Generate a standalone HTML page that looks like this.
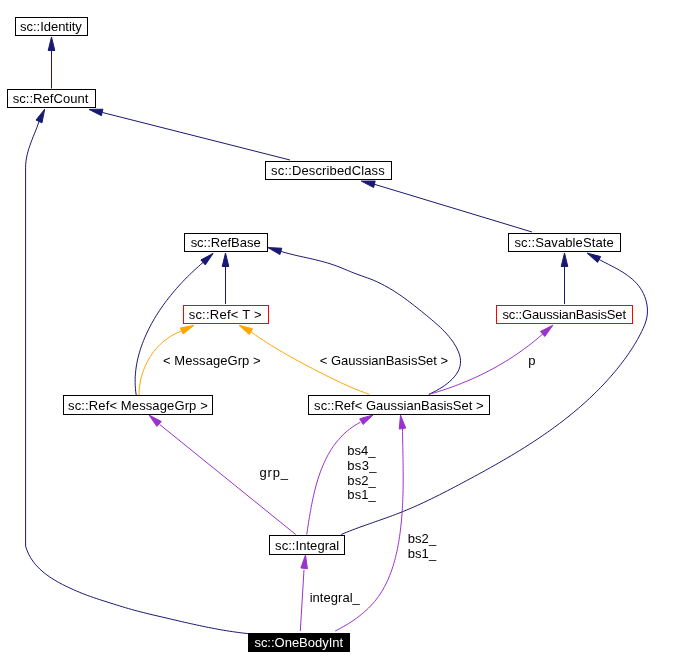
<!DOCTYPE html><html><head><meta charset="utf-8"><style>html,body{margin:0;padding:0;background:#fff;width:688px;height:670px;overflow:hidden}svg{display:block;will-change:transform}text{font-family:"Liberation Sans", sans-serif;font-size:13px}</style></head><body>
<svg width="688" height="670" viewBox="0 0 688 670">
<rect x="0" y="0" width="688" height="670" fill="#fff"/>
<path d="M51.50 51.00 L51.50 88.50" fill="none" stroke="#191970" stroke-width="1"/>
<polygon points="51.50,37.00 54.80,50.50 48.20,50.50" fill="#191970" stroke="#191970" stroke-width="1"/>
<path d="M102.50 112.50 L290.00 160.00" fill="none" stroke="#191970" stroke-width="1"/>
<polygon points="89.00,109.40 102.90,109.21 101.42,115.64" fill="#191970" stroke="#191970" stroke-width="1"/>
<path d="M374.50 184.30 L532.00 232.00" fill="none" stroke="#191970" stroke-width="1"/>
<polygon points="361.30,181.10 375.20,181.07 373.64,187.49" fill="#191970" stroke="#191970" stroke-width="1"/>
<path d="M39.20 121.00 L38.14 124.07 L37.01 127.13 L35.83 130.18 L34.61 133.23 L33.39 136.28 L32.18 139.34 L31.01 142.40 L29.90 145.49 L28.87 148.59 L27.94 151.71 L27.13 154.86 L26.47 158.04 L25.98 161.25 L25.69 164.50 L25.60 167.80 L25.60 167.80 L25.60 546.10 L25.60 546.10 L26.55 549.12 L27.68 552.01 L28.98 554.78 L30.44 557.43 L32.05 559.97 L33.80 562.39 L35.68 564.71 L37.69 566.92 L39.82 569.04 L42.05 571.07 L44.37 573.01 L46.79 574.87 L49.28 576.64 L51.84 578.34 L54.46 579.98 L57.13 581.54 L59.85 583.05 L62.59 584.50 L65.36 585.89 L68.15 587.24 L70.94 588.54 L73.73 589.81 L76.53 591.03 L79.33 592.21 L82.14 593.36 L84.96 594.46 L87.80 595.52 L90.65 596.55 L93.50 597.55 L96.37 598.52 L99.25 599.47 L102.13 600.41 L105.03 601.34 L107.93 602.26 L110.83 603.18 L113.75 604.10 L116.66 605.01 L119.59 605.91 L122.52 606.80 L125.45 607.68 L128.39 608.54 L131.33 609.39 L134.28 610.21 L137.24 611.01 L140.19 611.78 L143.16 612.53 L146.12 613.26 L149.09 613.98 L152.06 614.69 L155.03 615.39 L158.01 616.09 L160.98 616.78 L163.95 617.47 L166.93 618.17 L169.90 618.87 L172.87 619.56 L175.85 620.26 L178.82 620.95 L181.80 621.64 L184.78 622.32 L187.76 622.99 L190.74 623.66 L193.72 624.32 L196.70 624.98 L199.69 625.62 L202.67 626.25 L205.67 626.86 L208.66 627.47 L211.65 628.06 L214.65 628.63 L217.66 629.19 L220.66 629.73 L223.67 630.25 L226.68 630.75 L229.70 631.23 L232.72 631.68 L235.75 632.12 L238.78 632.53 L241.81 632.91 L244.85 633.27 L247.90 633.60" fill="none" stroke="#191970" stroke-width="1"/>
<polygon points="44.70,109.20 41.99,122.83 36.01,120.04" fill="#191970" stroke="#191970" stroke-width="1"/>
<path d="M225.50 266.50 L225.50 304.00" fill="none" stroke="#191970" stroke-width="1"/>
<polygon points="225.50,253.00 228.80,266.50 222.20,266.50" fill="#191970" stroke="#191970" stroke-width="1"/>
<path d="M203.10 262.40 L200.80 264.39 L198.50 266.41 L196.23 268.46 L193.97 270.55 L191.73 272.66 L189.51 274.80 L187.31 276.98 L185.13 279.18 L182.98 281.42 L180.85 283.68 L178.75 285.98 L176.68 288.30 L174.64 290.65 L172.63 293.03 L170.65 295.44 L168.71 297.88 L166.80 300.34 L164.93 302.83 L163.11 305.35 L161.32 307.90 L159.57 310.47 L157.87 313.07 L156.21 315.70 L154.60 318.35 L153.04 321.03 L151.53 323.74 L150.07 326.47 L148.66 329.23 L147.31 332.01 L146.01 334.81 L144.77 337.64 L143.59 340.50 L142.47 343.37 L141.42 346.27 L140.44 349.19 L139.54 352.14 L138.70 355.10 L137.95 358.08 L137.28 361.07 L136.69 364.09 L136.20 367.12 L135.79 370.17 L135.48 373.23 L135.26 376.30 L135.15 379.39 L135.14 382.49 L135.24 385.60 L135.44 388.73 L135.76 391.86 L136.20 395.00" fill="none" stroke="#191970" stroke-width="1"/>
<polygon points="213.10,253.40 205.27,264.88 200.86,259.98" fill="#191970" stroke="#191970" stroke-width="1"/>
<path d="M280.20 251.20 L283.09 252.06 L286.01 252.88 L288.94 253.65 L291.90 254.40 L294.87 255.11 L297.85 255.80 L300.84 256.48 L303.83 257.14 L306.83 257.81 L309.82 258.48 L312.82 259.17 L315.80 259.87 L318.78 260.60 L321.74 261.36 L324.69 262.16 L327.62 263.00 L330.52 263.90 L333.41 264.85 L336.26 265.87 L339.09 266.95 L341.90 268.08 L344.70 269.23 L347.50 270.40 L350.32 271.56 L353.15 272.70 L356.01 273.81 L358.91 274.87 L361.82 275.91 L364.74 276.94 L367.64 277.99 L370.53 279.07 L373.38 280.22 L376.18 281.43 L378.95 282.71 L381.68 284.05 L384.37 285.46 L387.02 286.91 L389.65 288.43 L392.24 289.99 L394.80 291.60 L397.34 293.25 L399.85 294.94 L402.35 296.68 L404.82 298.45 L407.27 300.25 L409.71 302.08 L412.13 303.93 L414.54 305.81 L416.94 307.71 L419.33 309.63 L421.72 311.56 L424.10 313.50 L426.48 315.45 L428.86 317.41 L431.23 319.38 L433.58 321.37 L435.90 323.38 L438.19 325.43 L440.44 327.51 L442.63 329.64 L444.76 331.82 L446.82 334.05 L448.80 336.35 L450.69 338.73 L452.49 341.18 L454.17 343.71 L455.75 346.33 L457.20 349.06 L458.48 351.87 L459.52 354.77 L460.23 357.74 L460.54 360.73 L460.45 363.69 L459.92 366.56 L459.00 369.32 L457.71 371.98 L456.10 374.52 L454.21 376.95 L452.08 379.26 L449.76 381.45 L447.27 383.52 L444.66 385.46 L441.98 387.27 L439.25 388.95 L436.53 390.50 L433.86 391.91 L431.27 393.17 L428.80 394.30" fill="none" stroke="#191970" stroke-width="1"/>
<polygon points="267.90,247.60 281.78,248.22 279.93,254.56" fill="#191970" stroke="#191970" stroke-width="1"/>
<path d="M564.50 266.60 L564.50 304.00" fill="none" stroke="#191970" stroke-width="1"/>
<polygon points="564.50,253.00 567.80,266.50 561.20,266.50" fill="#191970" stroke="#191970" stroke-width="1"/>
<path d="M598.20 259.00 L600.71 260.35 L603.30 261.70 L605.96 263.06 L608.66 264.44 L611.39 265.84 L614.13 267.28 L616.87 268.77 L619.59 270.31 L622.27 271.92 L624.90 273.60 L627.46 275.36 L629.93 277.22 L632.29 279.18 L634.54 281.25 L636.65 283.45 L638.60 285.77 L640.38 288.23 L641.99 290.82 L643.40 293.51 L644.62 296.30 L645.63 299.17 L646.43 302.09 L647.01 305.07 L647.35 308.07 L647.46 311.08 L647.32 314.09 L646.92 317.09 L646.26 320.05 L645.36 322.97 L644.26 325.85 L643.02 328.68 L641.70 331.47 L640.32 334.21 L638.90 336.91 L637.43 339.57 L635.92 342.20 L634.37 344.79 L632.77 347.35 L631.14 349.88 L629.47 352.38 L627.76 354.86 L626.01 357.32 L624.24 359.76 L622.43 362.18 L620.58 364.58 L618.71 366.96 L616.81 369.32 L614.87 371.67 L612.91 373.99 L610.92 376.29 L608.91 378.57 L606.87 380.84 L604.80 383.08 L602.71 385.30 L600.60 387.50 L598.46 389.68 L596.30 391.84 L594.12 393.97 L591.93 396.09 L589.71 398.19 L587.48 400.26 L585.22 402.31 L582.96 404.34 L580.67 406.35 L578.37 408.33 L576.06 410.30 L573.73 412.25 L571.39 414.17 L569.03 416.08 L566.66 417.96 L564.27 419.83 L561.88 421.68 L559.46 423.51 L557.04 425.33 L554.60 427.12 L552.15 428.90 L549.69 430.67 L547.22 432.41 L544.74 434.15 L542.24 435.86 L539.74 437.56 L537.22 439.25 L534.70 440.92 L532.16 442.58 L529.62 444.22 L527.06 445.86 L524.50 447.47 L521.93 449.08 L519.35 450.68 L516.76 452.26 L514.17 453.83 L511.57 455.39 L508.96 456.94 L506.34 458.49 L503.72 460.02 L501.09 461.54 L498.46 463.05 L495.82 464.56 L493.18 466.05 L490.53 467.54 L487.88 469.03 L485.22 470.50 L482.56 471.97 L479.89 473.43 L477.22 474.89 L474.55 476.34 L471.88 477.79 L469.20 479.23 L466.52 480.67 L463.84 482.10 L461.16 483.53 L458.48 484.96 L455.79 486.38 L453.10 487.79 L450.41 489.20 L447.71 490.60 L445.01 491.99 L442.31 493.37 L439.60 494.74 L436.89 496.10 L434.17 497.45 L431.45 498.78 L428.72 500.10 L425.98 501.40 L423.23 502.69 L420.48 503.97 L417.72 505.22 L414.96 506.46 L412.18 507.67 L409.40 508.87 L406.60 510.04 L403.80 511.20 L400.98 512.33 L398.16 513.43 L395.32 514.52 L392.48 515.58 L389.63 516.63 L386.77 517.66 L383.91 518.68 L381.04 519.70 L378.18 520.70 L375.31 521.71 L372.44 522.71 L369.57 523.72 L366.70 524.73 L363.84 525.75 L360.98 526.78 L358.13 527.82 L355.28 528.88 L352.44 529.95 L349.61 531.05 L346.80 532.17 L343.99 533.32 L341.20 534.50" fill="none" stroke="#191970" stroke-width="1"/>
<polygon points="587.20,253.10 600.66,256.57 597.54,262.39" fill="#191970" stroke="#191970" stroke-width="1"/>
<path d="M181.80 331.00 L178.79 332.14 L175.87 333.44 L173.04 334.90 L170.31 336.50 L167.68 338.25 L165.15 340.13 L162.72 342.14 L160.39 344.26 L158.17 346.51 L156.06 348.85 L154.06 351.30 L152.18 353.85 L150.41 356.48 L148.76 359.19 L147.23 361.97 L145.82 364.82 L144.54 367.73 L143.38 370.69 L142.36 373.70 L141.46 376.75 L140.70 379.83 L140.08 382.94 L139.60 386.07 L139.25 389.21 L139.05 392.35 L139.00 395.50" fill="none" stroke="#ffa500" stroke-width="1"/>
<polygon points="194.00,325.30 183.17,334.00 180.37,328.02" fill="#ffa500" stroke="#ffa500" stroke-width="1"/>
<path d="M250.60 331.50 L253.15 333.33 L255.71 335.13 L258.29 336.91 L260.89 338.66 L263.50 340.39 L266.13 342.10 L268.77 343.79 L271.42 345.46 L274.09 347.11 L276.77 348.74 L279.46 350.35 L282.16 351.94 L284.87 353.52 L287.59 355.08 L290.33 356.63 L293.07 358.16 L295.81 359.68 L298.57 361.19 L301.33 362.68 L304.10 364.16 L306.88 365.63 L309.66 367.09 L312.44 368.55 L315.23 369.99 L318.03 371.43 L320.83 372.85 L323.63 374.27 L326.43 375.68 L329.24 377.08 L332.06 378.46 L334.88 379.83 L337.71 381.18 L340.55 382.51 L343.40 383.82 L346.26 385.12 L349.12 386.38 L352.00 387.63 L354.88 388.85 L357.78 390.04 L360.69 391.20 L363.61 392.33 L366.55 393.43 L369.50 394.50" fill="none" stroke="#ffa500" stroke-width="1"/>
<polygon points="239.00,325.30 252.46,328.75 249.35,334.57" fill="#ffa500" stroke="#ffa500" stroke-width="1"/>
<path d="M543.00 333.70 L540.67 335.75 L538.32 337.78 L535.94 339.77 L533.54 341.73 L531.12 343.66 L528.67 345.57 L526.20 347.44 L523.71 349.28 L521.20 351.09 L518.67 352.87 L516.12 354.62 L513.55 356.34 L510.95 358.03 L508.34 359.69 L505.71 361.32 L503.07 362.92 L500.40 364.49 L497.72 366.03 L495.02 367.55 L492.30 369.03 L489.57 370.48 L486.82 371.90 L484.05 373.30 L481.27 374.66 L478.48 376.00 L475.67 377.31 L472.85 378.58 L470.02 379.83 L467.17 381.05 L464.31 382.24 L461.44 383.40 L458.56 384.54 L455.67 385.64 L452.76 386.72 L449.85 387.76 L446.92 388.78 L443.99 389.77 L441.05 390.73 L438.10 391.67 L435.14 392.57 L432.17 393.45 L429.20 394.30" fill="none" stroke="#9a32cd" stroke-width="1"/>
<polygon points="552.90,325.20 544.81,336.50 540.51,331.49" fill="#9a32cd" stroke="#9a32cd" stroke-width="1"/>
<path d="M159.70 424.50 L295.70 534.50" fill="none" stroke="#9a32cd" stroke-width="1"/>
<polygon points="149.00,415.00 161.29,421.50 156.90,426.43" fill="#9a32cd" stroke="#9a32cd" stroke-width="1"/>
<path d="M360.40 422.20 L357.56 423.77 L354.83 425.43 L352.22 427.19 L349.70 429.04 L347.29 430.97 L344.99 432.99 L342.78 435.09 L340.66 437.26 L338.64 439.51 L336.71 441.83 L334.87 444.22 L333.11 446.68 L331.44 449.19 L329.84 451.77 L328.32 454.39 L326.88 457.07 L325.51 459.80 L324.20 462.58 L322.96 465.40 L321.79 468.25 L320.68 471.15 L319.62 474.07 L318.63 477.03 L317.68 480.01 L316.78 483.01 L315.94 486.04 L315.14 489.08 L314.38 492.14 L313.66 495.20 L312.97 498.28 L312.32 501.36 L311.71 504.44 L311.12 507.52 L310.56 510.59 L310.02 513.65 L309.50 516.70 L309.01 519.74 L308.52 522.76 L308.06 525.76 L307.60 528.74 L307.15 531.68 L306.70 534.60" fill="none" stroke="#9a32cd" stroke-width="1"/>
<polygon points="373.10,414.90 363.04,424.49 359.75,418.77" fill="#9a32cd" stroke="#9a32cd" stroke-width="1"/>
<path d="M402.50 428.70 L402.54 431.78 L402.59 434.87 L402.64 437.95 L402.69 441.03 L402.75 444.11 L402.81 447.19 L402.87 450.27 L402.93 453.34 L402.98 456.42 L403.03 459.50 L403.08 462.57 L403.12 465.65 L403.15 468.72 L403.17 471.80 L403.19 474.87 L403.19 477.95 L403.18 481.02 L403.16 484.09 L403.12 487.17 L403.07 490.24 L403.00 493.31 L402.91 496.38 L402.81 499.46 L402.68 502.53 L402.53 505.60 L402.36 508.67 L402.16 511.74 L401.94 514.82 L401.70 517.89 L401.42 520.96 L401.12 524.03 L400.78 527.11 L400.42 530.18 L400.02 533.25 L399.59 536.33 L399.12 539.40 L398.62 542.47 L398.07 545.53 L397.48 548.59 L396.85 551.63 L396.16 554.66 L395.43 557.67 L394.64 560.66 L393.80 563.63 L392.90 566.58 L391.93 569.50 L390.91 572.39 L389.81 575.25 L388.65 578.07 L387.42 580.85 L386.11 583.60 L384.72 586.30 L383.26 588.95 L381.71 591.56 L380.08 594.11 L378.37 596.61 L376.56 599.06 L374.66 601.44 L372.67 603.77 L370.58 606.03 L368.40 608.23 L366.14 610.36 L363.80 612.43 L361.40 614.44 L358.93 616.38 L356.42 618.26 L353.85 620.07 L351.25 621.82 L348.61 623.51 L345.95 625.13 L343.27 626.70 L340.58 628.19 L337.89 629.63 L335.20 631.00" fill="none" stroke="#9a32cd" stroke-width="1"/>
<polygon points="400.50,415.20 405.74,428.07 399.21,429.04" fill="#9a32cd" stroke="#9a32cd" stroke-width="1"/>
<path d="M304.00 569.70 L300.30 631.00" fill="none" stroke="#9a32cd" stroke-width="1"/>
<polygon points="305.50,554.90 307.42,568.66 300.86,568.00" fill="#9a32cd" stroke="#9a32cd" stroke-width="1"/>
<rect x="15.5" y="17.5" width="72" height="18" fill="#fff" stroke="#000" stroke-width="1" shape-rendering="crispEdges"/>
<rect x="7.5" y="89.5" width="88" height="18" fill="#fff" stroke="#000" stroke-width="1" shape-rendering="crispEdges"/>
<rect x="265.5" y="161.5" width="126" height="18" fill="#fff" stroke="#000" stroke-width="1" shape-rendering="crispEdges"/>
<rect x="184.5" y="233.5" width="83" height="18" fill="#fff" stroke="#000" stroke-width="1" shape-rendering="crispEdges"/>
<rect x="508.5" y="233.5" width="112" height="18" fill="#fff" stroke="#000" stroke-width="1" shape-rendering="crispEdges"/>
<rect x="183.5" y="305.5" width="85" height="18" fill="#fff" stroke="#ff0000" stroke-width="1" shape-rendering="crispEdges"/>
<rect x="496.5" y="305.5" width="136" height="18" fill="#fff" stroke="#ff0000" stroke-width="1" shape-rendering="crispEdges"/>
<rect x="63.5" y="395.5" width="149" height="19" fill="#fff" stroke="#000" stroke-width="1" shape-rendering="crispEdges"/>
<rect x="308.5" y="395.5" width="181" height="19" fill="#fff" stroke="#000" stroke-width="1" shape-rendering="crispEdges"/>
<rect x="269.5" y="535.5" width="75" height="19" fill="#fff" stroke="#000" stroke-width="1" shape-rendering="crispEdges"/>
<rect x="248" y="633" width="102" height="19" fill="#000"/>
<text id="n0" x="20.12" y="31" textLength="61.70" lengthAdjust="spacing" fill="#000" style="color:#000" xml:space="preserve">sc::Identity</text>
<text id="n1" x="12.64" y="103" textLength="75.79" lengthAdjust="spacing" fill="#000" style="color:#000" xml:space="preserve">sc::RefCount</text>
<text id="n2" x="271.12" y="175" textLength="113.55" lengthAdjust="spacing" fill="#000" style="color:#000" xml:space="preserve">sc::DescribedClass</text>
<text id="n3" x="190.64" y="247" textLength="69.98" lengthAdjust="spacing" fill="#000" style="color:#000" xml:space="preserve">sc::RefBase</text>
<text id="n4" x="514.44" y="247" textLength="99.38" lengthAdjust="spacing" fill="#000" style="color:#000" xml:space="preserve">sc::SavableState</text>
<text id="n5" x="188.64" y="319" textLength="73.01" lengthAdjust="spacing" fill="#000" style="color:#000" xml:space="preserve">sc::Ref&lt; T &gt;</text>
<text id="n6" x="502.44" y="319" textLength="123.56" lengthAdjust="spacing" fill="#000" style="color:#000" xml:space="preserve">sc::GaussianBasisSet</text>
<text id="n7" x="68.12" y="410" textLength="139.66" lengthAdjust="spacing" fill="#000" style="color:#000" xml:space="preserve">sc::Ref&lt; MessageGrp &gt;</text>
<text id="n8" x="314.12" y="410" textLength="169.49" lengthAdjust="spacing" fill="#000" style="color:#000" xml:space="preserve">sc::Ref&lt; GaussianBasisSet &gt;</text>
<text id="n9" x="275.12" y="550" textLength="64.08" lengthAdjust="spacing" fill="#000" style="color:#000" xml:space="preserve">sc::Integral</text>
<text id="n10" x="254.40" y="647" textLength="88.71" lengthAdjust="spacing" fill="#fff" style="color:#fff" xml:space="preserve">sc::OneBodyInt</text>
<text id="l0" x="163.04" y="365" textLength="97.65" lengthAdjust="spacing" fill="#000" style="color:#000" xml:space="preserve">&lt; MessageGrp &gt;</text>
<text id="l1" x="319.81" y="365" textLength="128.22" lengthAdjust="spacing" fill="#000" style="color:#000" xml:space="preserve">&lt; GaussianBasisSet &gt;</text>
<text id="l2" x="528.30" y="365" textLength="6.33" lengthAdjust="spacing" fill="#000" style="color:#000" xml:space="preserve">p</text>
<text id="l3" x="259.56" y="477" textLength="28.38" lengthAdjust="spacing" fill="#000" style="color:#000" xml:space="preserve">grp_</text>
<text id="l4" x="347.30" y="455" textLength="28.21" lengthAdjust="spacing" fill="#000" style="color:#000" xml:space="preserve">bs4_</text>
<text id="l5" x="347.30" y="470" textLength="29.21" lengthAdjust="spacing" fill="#000" style="color:#000" xml:space="preserve">bs3_</text>
<text id="l6" x="347.30" y="485" textLength="28.51" lengthAdjust="spacing" fill="#000" style="color:#000" xml:space="preserve">bs2_</text>
<text id="l7" x="347.30" y="499" textLength="28.51" lengthAdjust="spacing" fill="#000" style="color:#000" xml:space="preserve">bs1_</text>
<text id="l8" x="407.72" y="543" textLength="28.39" lengthAdjust="spacing" fill="#000" style="color:#000" xml:space="preserve">bs2_</text>
<text id="l9" x="407.72" y="558" textLength="28.39" lengthAdjust="spacing" fill="#000" style="color:#000" xml:space="preserve">bs1_</text>
<text id="l10" x="309.67" y="602" textLength="50.13" lengthAdjust="spacing" fill="#000" style="color:#000" xml:space="preserve">integral_</text>
</svg></body></html>
